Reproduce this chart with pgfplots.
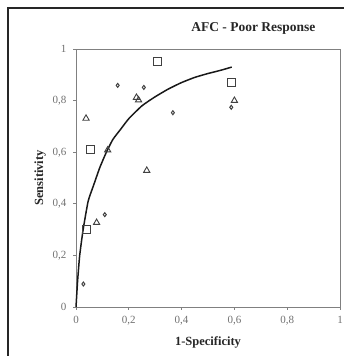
\documentclass[border=0pt]{standalone}
\usepackage{pgfplots}
\pgfplotsset{compat=1.18}
\usepackage{fontspec}
\setmainfont{Liberation Serif}
\definecolor{axgray}{HTML}{808080}
\definecolor{tickgray}{HTML}{707070}
\definecolor{markgray}{HTML}{404040}
\begin{document}
\begin{tikzpicture}[x=1pt,y=1pt]
\useasboundingbox (0,0) rectangle (344,356);
\draw[line width=1.1pt,black!85] (8,-2) -- (8,348) -- (346,348);
\begin{axis}[
  at={(76pt,49pt)}, anchor=origin,
  scale only axis, width=264pt, height=258pt,
  xmin=0, xmax=1, ymin=0, ymax=1,
  xtick={0,0.2,0.4,0.6,0.8,1}, ytick={0,0.2,0.4,0.6,0.8,1},
  /pgf/number format/assume math mode=true,
  /pgf/number format/use comma,
  xticklabel style={font=\fontsize{11}{12}\selectfont, text=tickgray, yshift=-3pt},
  yticklabel style={font=\fontsize{11}{12}\selectfont, text=tickgray, xshift=-3pt},
  axis line style={axgray, line width=0.8pt},
  tick style={axgray, line width=0.8pt},
  tick align=outside, major tick length=3pt,
  xtick pos=bottom, ytick pos=left,
  xlabel={\fontsize{12.5}{14}\selectfont\bfseries 1-Specificity},
  ylabel={\fontsize{12.5}{14}\selectfont\bfseries Sensitivity},
  every axis x label/.style={at={(axis description cs:0.5,-0.138)}, anchor=center, text=black!85},
  every axis y label/.style={at={(axis description cs:-0.136,0.5)}, anchor=center, rotate=90, text=black!85},
  title={\fontsize{13.5}{15}\selectfont\bfseries AFC - Poor Response},
  every axis title/.style={text=black!85, at={(axis description cs:0.672,1.078)}, anchor=center},
  clip=false,
]
\addplot[black!90, line width=1.5pt, smooth, tension=0.3] coordinates {
(0,0) (0.006,0.10) (0.014,0.20) (0.027,0.30) (0.046,0.41) (0.066,0.47)
(0.09,0.54) (0.115,0.60) (0.14,0.65) (0.17,0.69) (0.2,0.73) (0.25,0.78)
(0.3,0.815) (0.35,0.845) (0.4,0.87) (0.45,0.89) (0.5,0.905) (0.55,0.918) (0.59,0.93)};
\addplot[only marks, mark=square, mark size=4pt, markgray, line width=1pt] coordinates {
(0.038,0.30) (0.055,0.612) (0.307,0.952) (0.588,0.872)};
\addplot[only marks, mark=triangle, mark size=3.6pt, markgray, line width=0.9pt] coordinates {
(0.038,0.731) (0.12,0.608) (0.229,0.812) (0.237,0.802) (0.268,0.529) (0.60,0.80) (0.078,0.327)};
\addplot[only marks, mark=diamond, mark size=2pt, markgray, line width=1pt] coordinates {
(0.158,0.859) (0.257,0.851) (0.367,0.753) (0.588,0.774) (0.109,0.358) (0.028,0.089)};
\end{axis}
\end{tikzpicture}
\end{document}
